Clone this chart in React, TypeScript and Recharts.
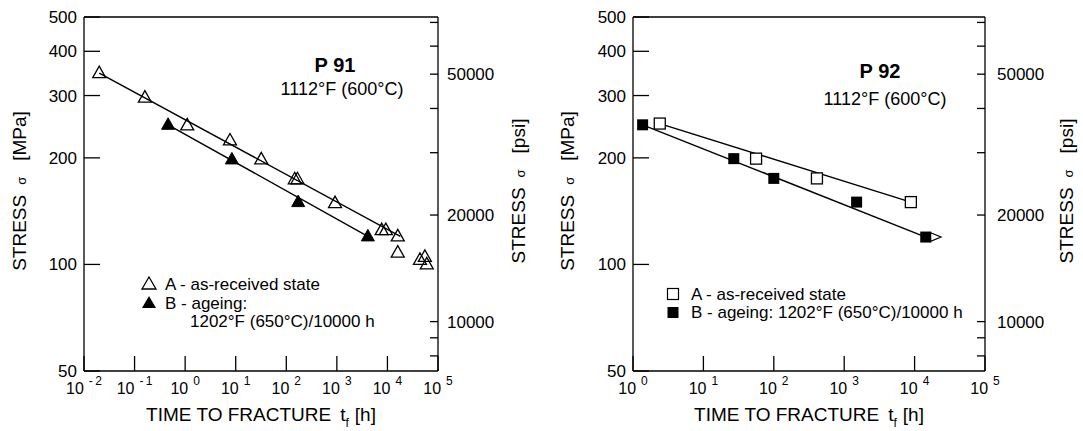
import React from 'react';
import { ComposedChart, Scatter, XAxis, YAxis } from 'recharts';

const FONT = '"Liberation Sans", Arial, Helvetica, sans-serif';
const PSI_TO_MPA = 0.00689476;

// P 91 – as-received (A) and aged (B), time [h] / stress [MPa]
const p91A_t = [0.02, 0.16, 1.1, 7.7, 32, 147, 166, 920, 7700, 9300, 16000, 16000, 44000, 55000, 60000];
const p91A_s = [347, 296, 247, 224, 198, 174, 174, 149, 125, 125, 120, 108, 103, 105, 100];
const p91B_t = [0.46, 8.4, 172, 4100];
const p91B_s = [248, 198, 150, 120];
// fitted lines (end points)
const p91FitA_t = [0.02, 18000];
const p91FitA_s = [347, 120];
const p91FitB_t = [0.46, 4100];
const p91FitB_s = [248, 120];

// P 92
const p92A_t = [2.4, 56, 410, 8850];
const p92A_s = [250, 199, 175, 150];
const p92B_t = [1.37, 27, 100, 1500, 14400];
const p92B_s = [248, 199, 175, 150, 119.5];
const p92Run_t = [19500]; // test still running
const p92Run_s = [119.5];
const p92FitA_t = [2.4, 8850];
const p92FitA_s = [250, 150];
const p92FitB_t = [1.37, 14400];
const p92FitB_s = [248, 119.5];

// axes
const p91XTicks = [0.01, 0.1, 1, 10, 100, 1000, 10000, 100000];
const p92XTicks = [1, 10, 100, 1000, 10000, 100000];
const mpaTicks = [50, 100, 200, 300, 400, 500];
const psiTicks = [8000, 9000, 10000, 20000, 30000, 40000, 50000, 60000, 70000];
const psiLabels = [10000, 20000, 50000];

const pts = (t: number[], s: number[]) => t.map((v, i) => ({ t: v, s: s[i] }));

const PowTick = (props: any) => {
  const { x, y, payload } = props;
  const exp = Math.round(Math.log10(payload.value));
  const e = exp < 0 ? '-\u2009' + -exp : String(exp);
  return (
    <text x={x} y={y + 23} textAnchor="middle" fontFamily={FONT} fontSize={16} fill="#000">
      10
      <tspan dx={5} dy={-9} fontSize={12}>{e}</tspan>
    </text>
  );
};

const OpenTri = (p: any) => (
  <polygon
    points={`${p.cx},${p.cy - 7} ${p.cx - 6.5},${p.cy + 4.5} ${p.cx + 6.5},${p.cy + 4.5}`}
    fill="none" stroke="#000" strokeWidth={1.3}
  />
);
const FullTri = (p: any) => (
  <polygon
    points={`${p.cx},${p.cy - 7} ${p.cx - 6.5},${p.cy + 4.5} ${p.cx + 6.5},${p.cy + 4.5}`}
    fill="#000" stroke="#000" strokeWidth={1}
  />
);
const OpenSq = (p: any) => (
  <rect x={p.cx - 5.5} y={p.cy - 5.5} width={11} height={11} fill="#fff" stroke="#000" strokeWidth={1.3} />
);
const FullSq = (p: any) => (
  <rect x={p.cx - 5.5} y={p.cy - 5.5} width={11} height={11} fill="#000" />
);
const RunArrow = (p: any) => (
  <polygon
    points={`${p.cx - 5},${p.cy - 4.5} ${p.cx + 6},${p.cy} ${p.cx - 5},${p.cy + 4.5}`}
    fill="#fff" stroke="#000" strokeWidth={1.2}
  />
);
const NoDot = () => <g />;

const axisStyle = { stroke: '#000', strokeWidth: 1.3 };

interface PanelProps {
  width: number;
  marginLeft: number;
  marginRight: number;
  xDomain: [number, number];
  xTicks: number[];
  psiMargin: number;
  children: React.ReactNode;
}

const Panel = ({ width, marginLeft, marginRight, xDomain, xTicks, psiMargin, children }: PanelProps) => (
  <ComposedChart
    width={width}
    height={431}
    margin={{ top: 7, right: marginRight, bottom: 30, left: marginLeft }}
  >
    <XAxis
      xAxisId="b" dataKey="t" type="number" scale="log" domain={xDomain} ticks={xTicks}
      allowDataOverflow interval={0} height={30}
      axisLine={axisStyle} tickLine={axisStyle} tickSize={-15} tickMargin={15}
      tick={<PowTick />}
    />
    <XAxis
      xAxisId="t" dataKey="t" orientation="top" type="number" scale="log" domain={xDomain}
      ticks={xTicks} allowDataOverflow interval={0} height={10}
      axisLine={axisStyle} tickLine={axisStyle} tickSize={-17} tick={false}
    />
    <YAxis
      yAxisId="l" dataKey="s" type="number" scale="log" domain={[50, 500]} ticks={mpaTicks}
      allowDataOverflow interval={0} width={60}
      axisLine={axisStyle} tickLine={axisStyle} tickSize={-16} tickMargin={23}
      tick={{ fontSize: 17, fill: '#000', fontFamily: FONT }}
    />
    <YAxis
      yAxisId="r" dataKey="s" orientation="right" type="number" scale="log" domain={[50, 500]}
      ticks={psiTicks.map((p) => p * PSI_TO_MPA)} allowDataOverflow interval={0} width={60}
      axisLine={axisStyle} tickLine={axisStyle} tickSize={-8} tickMargin={psiMargin}
      tickFormatter={(v: number) => {
        const psi = Math.round(v / PSI_TO_MPA / 1000) * 1000;
        return psiLabels.includes(psi) ? String(psi) : '';
      }}
      tick={{ fontSize: 17, fill: '#000', fontFamily: FONT }}
    />
    {children}
  </ComposedChart>
);

const fitLine = { stroke: '#000', strokeWidth: 1.4 };

const YTitle = ({ x, unit }: { x: number; unit: string }) => (
  <text transform={`translate(${x},191) rotate(-90)`} textAnchor="middle" fontSize={19}>
    STRESS
    <tspan dx={10} fontSize={13}>σ</tspan>
    <tspan dx={16}>[{unit}]</tspan>
  </text>
);

const XTitle = ({ x }: { x: number }) => (
  <text x={x} y={421} textAnchor="middle" fontSize={19}>
    TIME TO FRACTURE
    <tspan dx={9}>t</tspan>
    <tspan dy={6} fontSize={12}>f</tspan>
    <tspan dx={6} dy={-6}>[h]</tspan>
  </text>
);

const tri = (cx: number, cy: number) =>
  `${cx},${cy - 7} ${cx - 7},${cy + 5} ${cx + 7},${cy + 5}`;

export default function App() {
  return (
    <div style={{ position: 'absolute', left: 0, top: 0, width: 1083, height: 431, background: '#fff' }}>
      <div style={{ position: 'absolute', left: 0, top: 0 }}>
        <Panel width={541} marginLeft={24} marginRight={43} xDomain={[0.01, 100000]} xTicks={p91XTicks} psiMargin={17}>
          <Scatter data={pts(p91FitA_t, p91FitA_s)} xAxisId="t" yAxisId="r" line={fitLine} shape={NoDot} isAnimationActive={false} />
          <Scatter data={pts(p91FitB_t, p91FitB_s)} xAxisId="t" yAxisId="r" line={fitLine} shape={NoDot} isAnimationActive={false} />
          <Scatter data={pts(p91A_t, p91A_s)} xAxisId="b" yAxisId="l" shape={OpenTri} isAnimationActive={false} />
          <Scatter data={pts(p91B_t, p91B_s)} xAxisId="b" yAxisId="l" shape={FullTri} isAnimationActive={false} />
        </Panel>
      </div>
      <div style={{ position: 'absolute', left: 541, top: 0 }}>
        <Panel width={542} marginLeft={32} marginRight={38} xDomain={[1, 100000]} xTicks={p92XTicks} psiMargin={20}>
          <Scatter data={pts(p92FitA_t, p92FitA_s)} xAxisId="t" yAxisId="r" line={fitLine} shape={NoDot} isAnimationActive={false} />
          <Scatter data={pts(p92FitB_t, p92FitB_s)} xAxisId="t" yAxisId="r" line={fitLine} shape={NoDot} isAnimationActive={false} />
          <Scatter data={pts(p92Run_t, p92Run_s)} xAxisId="b" yAxisId="l" shape={RunArrow} isAnimationActive={false} />
          <Scatter data={pts(p92A_t, p92A_s)} xAxisId="b" yAxisId="l" shape={OpenSq} isAnimationActive={false} />
          <Scatter data={pts(p92B_t, p92B_s)} xAxisId="b" yAxisId="l" shape={FullSq} isAnimationActive={false} />
        </Panel>
      </div>
      <svg
        width={1083}
        height={431}
        style={{ position: 'absolute', left: 0, top: 0, pointerEvents: 'none' }}
        fontFamily={FONT}
        fill="#000"
      >
        {/* P 91 */}
        <text x={335} y={72} textAnchor="middle" fontSize={20} fontWeight="bold">P 91</text>
        <text x={342} y={95} textAnchor="middle" fontSize={18}>1112°F (600°C)</text>
        <polygon points={tri(149, 284)} fill="none" stroke="#000" strokeWidth={1.3} />
        <text x={165} y={289.5} fontSize={17}>A - as-received state</text>
        <polygon points={tri(149, 303)} fill="#000" />
        <text x={165} y={309} fontSize={17}>B - ageing:</text>
        <text x={190} y={327} fontSize={17}>1202°F (650°C)/10000 h</text>
        <XTitle x={261} />
        <YTitle x={26} unit="MPa" />
        <YTitle x={525} unit="psi" />

        {/* P 92 */}
        <text x={880} y={78} textAnchor="middle" fontSize={20} fontWeight="bold">P 92</text>
        <text x={885} y={105} textAnchor="middle" fontSize={18}>1112°F (600°C)</text>
        <rect x={667.5} y={288.5} width={11} height={11} fill="#fff" stroke="#000" strokeWidth={1.2} />
        <text x={691} y={299.5} fontSize={17}>A - as-received state</text>
        <rect x={667.5} y={307} width={11} height={11} fill="#000" />
        <text x={691} y={318} fontSize={17}>B - ageing: 1202°F (650°C)/10000 h</text>
        <XTitle x={809} />
        <YTitle x={574} unit="MPa" />
        <YTitle x={1073} unit="psi" />
      </svg>
    </div>
  );
}
